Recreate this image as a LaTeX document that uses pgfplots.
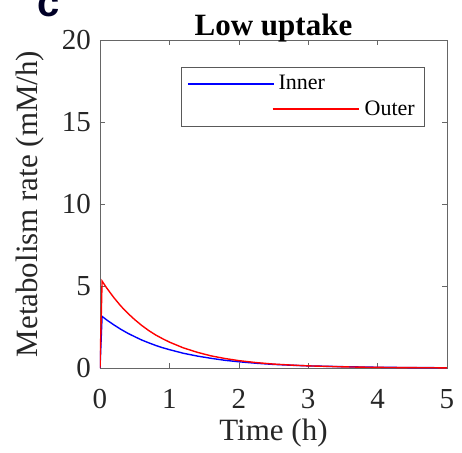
\documentclass[border=0pt]{standalone}
\usepackage{fontspec}
\setmainfont{Liberation Serif}
\newfontfamily\labelfont{Liberation Sans}
\usepackage{pgfplots}
\pgfplotsset{compat=1.18}
\definecolor{innerc}{rgb}{0,0,1}
\definecolor{outerc}{rgb}{1,0,0}

\begin{document}
\begin{tikzpicture}
\begin{axis}[
  scale only axis,
  width=173.5pt, height=164pt,
  xmin=0, xmax=5, ymin=0, ymax=20,
  xtick={0,1,2,3,4,5},
  ytick={0,5,10,15,20},
  tick align=inside,
  major tick length=2.5pt,
  axis line style={black!60},
  tick style={black!60},
  /pgf/number format/assume math mode=true,
  ticklabel style={font=\fontsize{14.5}{16}\selectfont, text=black!85},
  xticklabel style={yshift=-7pt},
  yticklabel style={xshift=-1pt},
  xlabel={Time (h)},
  ylabel={Metabolism rate (mM/h)},
  label style={font=\fontsize{15.5}{18}\selectfont, text=black!85},
  xlabel style={yshift=1.5pt},
  ylabel style={yshift=2pt},
  title={Low uptake},
  title style={font=\bfseries\fontsize{15.5}{18}\selectfont, at={(0.5,1)}, anchor=base, yshift=-3.5pt},
  legend style={at={(0.937,0.918)}, anchor=north east, draw=black!65,
    font=\fontsize{11}{13}\selectfont},
  legend cell align=left,
  legend image code/.code={\draw[#1] (0pt,0pt) -- (43pt,0pt);},
]
\addplot[draw=innerc, line width=0.7pt] coordinates {
(0,0) (0.03,3.15) (0.1,2.92) (0.2,2.63) (0.3,2.36) (0.4,2.12) (0.5,1.91)
(0.6,1.71) (0.7,1.54) (0.8,1.38) (0.9,1.24) (1.0,1.12) (1.2,0.90)
(1.4,0.73) (1.6,0.59) (1.8,0.47) (2.0,0.38) (2.25,0.29) (2.5,0.22)
(2.75,0.17) (3.0,0.13) (3.5,0.08) (4.0,0.045) (4.5,0.025) (5.0,0.015)
};
\addlegendentry{Inner}
\addplot[draw=outerc, line width=0.7pt, legend image code/.code={}] coordinates {
(0,0) (0.03,5.30) (0.1,4.86) (0.2,4.29) (0.3,3.78) (0.4,3.34) (0.5,2.95)
(0.6,2.60) (0.7,2.29) (0.8,2.02) (0.9,1.79) (1.0,1.58) (1.2,1.23)
(1.4,0.96) (1.6,0.74) (1.8,0.58) (2.0,0.45) (2.25,0.33) (2.5,0.24)
(2.75,0.18) (3.0,0.13) (3.5,0.07) (4.0,0.037) (4.5,0.02) (5.0,0.01)
};
\addlegendentry{\hspace{-3pt}\textcolor{outerc}{\rule[0.55ex]{43pt}{0.7pt}}\hspace{3pt}Outer}
\coordinate (sw) at (rel axis cs:0,0);
\end{axis}
\node[anchor=base, font=\labelfont\bfseries\fontsize{20}{22}\selectfont, text=black!85!blue]
  at ([xshift=-25.75pt,yshift=176pt]sw) {c};
\pgfresetboundingbox
\path[use as bounding box] ([xshift=-50pt,yshift=-42pt]sw) rectangle ([xshift=181pt,yshift=184pt]sw);
\end{tikzpicture}
\end{document}
